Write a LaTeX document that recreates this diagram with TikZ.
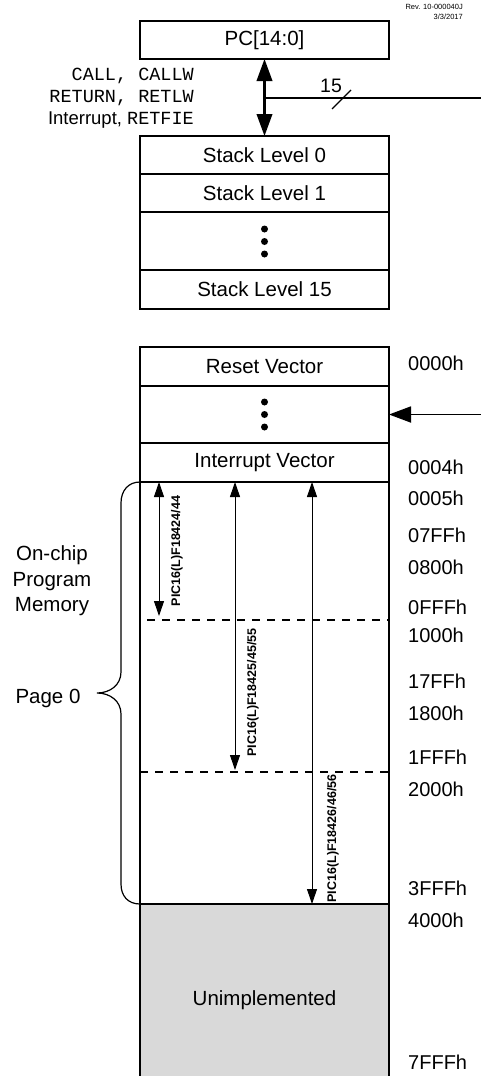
\documentclass[tikz,border=0pt]{standalone}
\usepackage{fontspec}
\setmainfont{Liberation Sans}
\setmonofont{Liberation Mono}
\usetikzlibrary{positioning,arrows.meta}
\definecolor{unimpgray}{RGB}{217,217,217}

\begin{document}
\begin{tikzpicture}[x=1pt,y=-1pt,
	membox/.style={rectangle, draw, line width=1.2pt, minimum width=249pt, inner sep=0pt, outer sep=0pt, font=\fontsize{20.5}{24}\selectfont},
	addr/.style={anchor=west, inner sep=0pt, font=\fontsize{20}{24}\selectfont},
	instr/.style={anchor=base east, inner sep=0pt, font=\fontsize{18.5}{22}\selectfont\ttfamily},
	partlbl/.style={rotate=90, inner sep=0pt, font=\fontsize{12.5}{14}\selectfont\bfseries},
	vdot/.style={circle, fill, inner sep=0pt, minimum size=7pt}]
	\useasboundingbox (0,0) rectangle (481,1076);

	% stack
	\node[membox, minimum height=38pt] (pc) at (264.5,40) {PC[14:0]};
	\node[membox, minimum height=38pt] (sl0) at (264.5,155) {Stack Level 0};
	\node[membox, minimum height=38pt] (sl1) [below=0pt of sl0] {Stack Level 1};
	\node[membox, minimum height=58pt] (sldots) [below=0pt of sl1] {};
	\node[membox, minimum height=39pt] (sl15) [below=0pt of sldots] {Stack Level 15};
	\foreach \y [count=\i] in {229,241.5,254}
		\node[vdot] (sdot\i) at (264.5,\y) {};

	\node[instr] (calllbl) at (194,80) {CALL, CALLW};
	\node[instr] (retlbl) at (194,102) {RETURN, RETLW};
	\node[instr, font=\fontsize{18.5}{22}\selectfont] (intlbl) at (194,124.5) {Interrupt, \texttt{RETFIE}};

	\draw[line width=2.2pt, {Triangle[width=15.5pt,length=22pt]}-{Triangle[width=15.5pt,length=22pt]}] (pc.south) -- (sl0.north);
	\coordinate (busjoin) at (264.5,98);
	\coordinate (busend) at (481,98);
	\draw[line width=2pt] (busjoin) -- (busend);
	\draw[line width=1.2pt] (332,109) -- (351,90);
	\node[inner sep=0pt, font=\fontsize{19.5}{22}\selectfont] (buswidth) at (331,86) {15};

	% program memory
	\node[membox, minimum height=39pt] (resetvec) at (264.5,366.5) {Reset Vector};
	\node[membox, minimum height=57pt] (mdots) [below=0pt of resetvec] {};
	\node[membox, minimum height=39pt] (intvec) [below=0pt of mdots] {Interrupt Vector};
	\node[membox, minimum height=422pt] (page0) [below=0pt of intvec] {};
	\node[membox, minimum height=192pt, fill=unimpgray] (unimp) [below=0pt of page0] {Unimplemented};
	\foreach \y [count=\i] in {402,414.5,427}
		\node[vdot] (mdot\i) at (264.5,\y) {};

	\coordinate (pcin) at (481,414.5);
	\draw[line width=1.8pt, -{Triangle[width=16pt,length=22pt]}] (pcin) -- (mdots.east);

	\draw[line width=1.2pt, dash pattern=on 8pt off 7pt] (147,620) -- (389,620);
	\draw[line width=1.2pt, dash pattern=on 8pt off 7pt] (140,772) -- (389,772);

	\coordinate (r1top) at (159,482);
	\coordinate (r1bot) at (159,616);
	\coordinate (r2top) at (235,482);
	\coordinate (r2bot) at (235,770);
	\coordinate (r3top) at (312,482);
	\coordinate (r3bot) at (312,904);
	\draw[line width=1pt, {Triangle[width=10pt,length=15pt]}-{Triangle[width=10pt,length=15pt]}] (r1top) -- (r1bot);
	\draw[line width=1pt, {Triangle[width=10pt,length=15pt]}-{Triangle[width=10pt,length=15pt]}] (r2top) -- (r2bot);
	\draw[line width=1pt, {Triangle[width=10pt,length=15pt]}-{Triangle[width=10pt,length=15pt]}] (r3top) -- (r3bot);
	\node[partlbl] (dev1) at (177,551) {PIC16(L)F18424/44};
	\node[partlbl] (dev2) at (253,692.5) {PIC16(L)F18425/45/55};
	\node[partlbl] (dev3) at (333,838.5) {PIC16(L)F18426/46/56};

	% addresses
	\node[addr] (a0000) at (408,363.5) {0000h};
	\node[addr] (a0004) at (408,467) {0004h};
	\node[addr] (a0005) at (408,498) {0005h};
	\node[addr] (a07ff) at (408,535) {07FFh};
	\node[addr] (a0800) at (408,567) {0800h};
	\node[addr] (a0fff) at (408,607) {0FFFh};
	\node[addr] (a1000) at (408,635) {1000h};
	\node[addr] (a17ff) at (408,681) {17FFh};
	\node[addr] (a1800) at (408,713) {1800h};
	\node[addr] (a1fff) at (408,757) {1FFFh};
	\node[addr] (a2000) at (408,789) {2000h};
	\node[addr] (a3fff) at (408,888) {3FFFh};
	\node[addr] (a4000) at (408,920) {4000h};
	\node[addr] (a7fff) at (408,1062) {7FFFh};

	% brace
	\draw[line width=1.2pt] (140,482) .. controls (128,482) and (121,491) .. (121,503) -- (121,672)
		.. controls (121,685) and (110,693) .. (97,693) .. controls (110,693) and (121,701) .. (121,714)
		-- (121,884) .. controls (121,896) and (128,904) .. (140,904);
	\node[align=center, inner sep=0pt, font=\fontsize{20.5}{25.5}\selectfont] (ocpm) at (52,581) {On-chip\\Program\\Memory};
	\node[inner sep=0pt, font=\fontsize{20.5}{24}\selectfont] (pg0lbl) at (48,698) {Page 0};

	\node[anchor=north east, align=right, inner sep=0pt, font=\fontsize{7.5}{10}\selectfont] (rev) at (463,4) {Rev. 10-000040J\\3/3/2017};
\end{tikzpicture}
\end{document}
